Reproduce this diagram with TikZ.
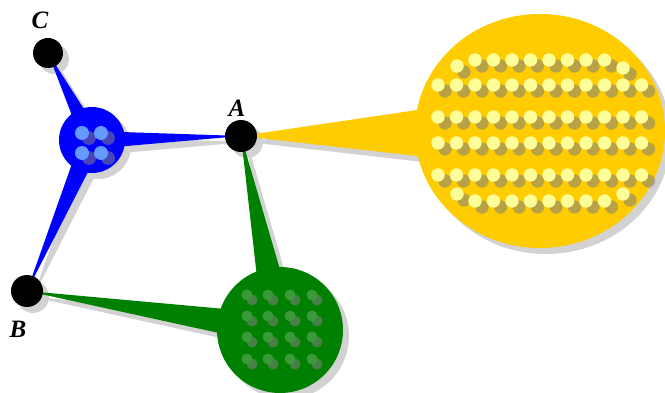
\documentclass[tikz,border=0pt]{standalone}
\usepackage{fontspec}
\setmainfont{Liberation Serif}
\usetikzlibrary{calc,shapes.geometric}
\pgfdeclarelayer{shadowlayer}
\pgfdeclarelayer{wedgelayer}
\pgfdeclarelayer{dotlayer}
\pgfsetlayers{shadowlayer,wedgelayer,main,dotlayer}
\definecolor{yel}{HTML}{FFCC00}
\definecolor{yeldot}{HTML}{FFFF99}
\definecolor{grn}{HTML}{008000}
\definecolor{grndot}{HTML}{3A9A3A}
\definecolor{bludot}{HTML}{6699FF}
\newcommand{\wedgefill}[4]{\fill[#4] (#1.center) -- ($(#2.center)!#3!90:(#1.center)$) -- ($(#2.center)!#3!-90:(#1.center)$) -- cycle;}
\tikzset{
  pt/.style={circle, fill=black, minimum size=32pt, inner sep=0pt},
  hub/.style={circle, inner sep=0pt},
  lbl/.style={font=\fontsize{25}{25}\selectfont\bfseries\itshape, inner sep=0pt},
  shd/.style={fill=gray!35},
  dotshd/.style={fill=gray, fill opacity=0.55},
}
\begin{document}
\begin{tikzpicture}[x=1pt,y=-1pt]
\useasboundingbox (0,0) rectangle (665,393);
% nodes
\node[pt, minimum size=30pt] (C) at (48,53) {};
\node[pt] (A) at (241,136) {};
\node[pt] (B) at (27,291) {};
\node[hub, fill=blue, minimum size=66pt] (H) at (92,140) {};
\node[hub, fill=grn, minimum size=126pt] (G) at (280,330) {};
\node[ellipse, fill=yel, minimum width=250pt, minimum height=234pt, inner sep=0pt] (Y) at (540,131) {};
% labels
\node[lbl] (lC) at (40,20) {C};
\node[lbl] (lA) at (237,108) {A};
\node[lbl] (lB) at (18,329) {B};
% wedges
\begin{pgfonlayer}{wedgelayer}
\wedgefill{C}{H}{10pt}{blue}
\wedgefill{A}{H}{9pt}{blue}
\wedgefill{B}{H}{11pt}{blue}
\wedgefill{A}{G}{17pt}{grn}
\wedgefill{B}{G}{16pt}{grn}
\wedgefill{A}{Y}{39pt}{yel}
\end{pgfonlayer}
% shadows
\begin{pgfonlayer}{shadowlayer}
\begin{scope}[transform canvas={xshift=6pt,yshift=-6pt}]
\wedgefill{C}{H}{10pt}{shd}
\wedgefill{A}{H}{9pt}{shd}
\wedgefill{B}{H}{11pt}{shd}
\wedgefill{A}{G}{17pt}{shd}
\wedgefill{B}{G}{16pt}{shd}
\wedgefill{A}{Y}{39pt}{shd}
\fill[shd] (C.center) circle (15);
\fill[shd] (A.center) circle (16);
\fill[shd] (B.center) circle (16);
\fill[shd] (H.center) circle (33);
\fill[shd] (G.center) circle (63);
\fill[shd] (Y.center) ellipse [x radius=125, y radius=117];
\end{scope}
\end{pgfonlayer}
% dots
\begin{pgfonlayer}{dotlayer}
% blue
\foreach \x/\y in {82/133,101/133,82/153,101/153} {
  \fill[dotshd] (\x+7,\y+5) circle (7);
}
\foreach \x/\y in {82/133,101/133,82/153,101/153} {
  \fill[bludot] (\x,\y) circle (7);
}
% green
\foreach \x in {247,268,290,312} {
  \foreach \y in {295,316,337,359} {
    \fill[dotshd] (\x+5,\y+5) circle (5.5);
  }
}
\foreach \x in {247,268,290,312} {
  \foreach \y in {295,316,337,359} {
    \fill[grndot] (\x,\y) circle (5.5);
  }
}
% yellow
\foreach \x/\y in {457/66,475/60,493.5/60,512/60,530.5/60,549/60,567.5/60,586/60,604.5/60,623/68,
  457/194,475/201,493.5/201,512/201,530.5/201,549/201,567.5/201,586/201,604.5/201,623/194} {
  \fill[dotshd] (\x+7,\y+6) circle (6.7);
}
\foreach \y in {85,117,143,175} {
  \foreach \i in {0,...,11} {
    \fill[dotshd] (438+18.5*\i+7,\y+6) circle (6.7);
  }
}
\foreach \x/\y in {457/66,475/60,493.5/60,512/60,530.5/60,549/60,567.5/60,586/60,604.5/60,623/68,
  457/194,475/201,493.5/201,512/201,530.5/201,549/201,567.5/201,586/201,604.5/201,623/194} {
  \fill[yeldot] (\x,\y) circle (6.7);
}
\foreach \y in {85,117,143,175} {
  \foreach \i in {0,...,11} {
    \fill[yeldot] (438+18.5*\i,\y) circle (6.7);
  }
}
\end{pgfonlayer}
\end{tikzpicture}
\end{document}
